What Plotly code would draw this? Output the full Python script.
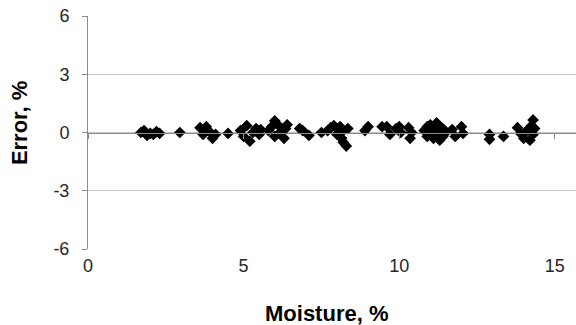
import plotly.graph_objects as go

# Data (Moisture %, Error %)
moisture = [1.7, 1.8, 1.9, 2.0, 2.1, 2.2, 2.3,
            2.95,
            3.6, 3.7, 3.8, 3.9, 4.0, 4.1,
            4.5,
            4.9, 5.0, 5.1, 5.2, 5.3, 5.4, 5.5, 5.55,
            5.8, 5.9, 6.0, 6.0, 6.1, 6.2, 6.3, 6.35, 6.4,
            6.8, 6.9, 7.1,
            7.5, 7.7, 7.8, 7.9, 8.0, 8.0, 8.1, 8.15, 8.2, 8.2, 8.3, 8.35,
            8.9, 9.0, 9.45,
            9.6, 9.7, 9.9, 10.0, 10.05,
            10.3, 10.35, 10.4,
            10.8, 10.9, 10.9, 11.0, 11.0, 11.1, 11.1, 11.2, 11.2, 11.3, 11.3, 11.35, 11.4, 11.4, 11.5,
            11.7, 11.8, 12.0, 12.05,
            12.9, 12.9, 13.35,
            13.8, 13.9, 14.0, 14.1, 14.2, 14.25, 14.3, 14.3, 14.35]
error = [0.0, 0.1, -0.15, -0.05, -0.1, 0.05, -0.05,
         0.0,
         0.25, -0.1, 0.3, 0.05, -0.3, -0.1,
         -0.05,
         0.1, -0.2, 0.35, -0.45, 0.0, 0.2, -0.1, 0.15,
         0.1, 0.3, 0.6, -0.2, 0.4, 0.05, -0.3, 0.2, 0.4,
         0.2, 0.1, -0.15,
         0.0, 0.1, 0.25, 0.35, 0.2, -0.1, 0.3, -0.3, -0.5, 0.1, -0.7, 0.2,
         0.1, 0.3, 0.3,
         0.3, -0.1, 0.2, 0.3, 0.0,
         0.25, -0.3, 0.0,
         0.1, -0.2, 0.3, 0.0, 0.4, -0.3, 0.2, 0.5, -0.1, 0.3, -0.4, 0.1, 0.2, -0.2, 0.0,
         0.15, -0.2, 0.3, -0.05,
         -0.1, -0.35, -0.2,
         0.25, -0.05, -0.3, 0.1, -0.4, 0.35, 0.65, -0.1, 0.2]

x_ticks = [0, 5, 10, 15]
y_ticks = [-6, -3, 0, 3, 6]
y_tick_labels = ["-6", "-3", "0", "3", "6"]
x_title = "Moisture, %"
y_title = "Error, %"

grid_col = "#c4c4c4"
axis_col = "#8c8c8c"
tick_font = dict(family="Liberation Sans, Arial, sans-serif", size=18, color="#262626")
title_font = dict(family="Liberation Sans, Arial, sans-serif", size=22, color="#000000")

fig = go.Figure()
fig.add_trace(go.Scatter(
    x=moisture, y=error, mode="markers",
    marker=dict(symbol="diamond", size=9, color="#000000", line=dict(width=0)),
    showlegend=False, cliponaxis=False))
# invisible trace to materialize the crossing axis at y=0
fig.add_trace(go.Scatter(x=[0], y=[0], xaxis="x2", yaxis="y", mode="markers",
                         marker=dict(opacity=0), showlegend=False, hoverinfo="skip"))

fig.update_layout(
    width=576, height=325,
    margin=dict(l=88, r=0, t=16, b=76),
    paper_bgcolor="white", plot_bgcolor="white",
    xaxis=dict(range=[0, 15.68], tickvals=x_ticks, ticktext=[str(v) for v in x_ticks],
               showgrid=False, zeroline=False, showline=False, ticks="",
               tickfont=tick_font, ticklabelstandoff=4),
    xaxis2=dict(range=[0, 15.68], overlaying="x", anchor="free", position=0.5,
                tickvals=x_ticks, showticklabels=False, ticks="outside",
                ticklen=5, tickcolor=axis_col, showline=True, linecolor=axis_col,
                linewidth=1, showgrid=False, zeroline=False, side="bottom"),
    yaxis=dict(range=[-6, 6], tickvals=y_ticks, ticktext=y_tick_labels,
               showgrid=True, gridcolor=grid_col,
               gridwidth=1, zeroline=False, showline=True, linecolor=axis_col,
               linewidth=1, ticks="outside", ticklen=5, tickcolor=axis_col,
               tickfont=tick_font, ticklabelstandoff=9),
    annotations=[
        dict(text=f"<b>{x_title}</b>", xref="paper", yref="paper",
             x=0.488, y=-0.275, xanchor="center", yanchor="middle",
             showarrow=False, font=title_font),
        dict(text=f"<b>{y_title}</b>", xref="paper", yref="paper",
             x=-0.139, y=0.541, xanchor="center", yanchor="middle",
             textangle=-90, showarrow=False, font=title_font),
    ],
)

fig.write_html("out.html")
